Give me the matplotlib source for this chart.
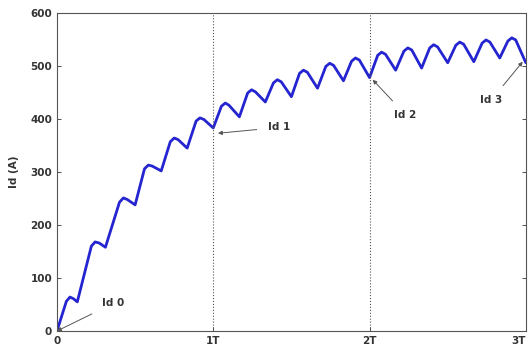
import numpy as np
import matplotlib.pyplot as plt
import matplotlib.transforms as mtransforms

# Armature current ripple: waveform vertices (time in units of T, current in A)
t_pts = [0.0, 0.06, 0.083, 0.105, 0.13,
         0.22, 0.244, 0.27, 0.31,
         0.40, 0.425, 0.45, 0.5,
         0.56, 0.585, 0.61, 0.667,
         0.725, 0.75, 0.775, 0.833,
         0.89, 0.915, 0.94, 1.0,
         1.052, 1.077, 1.10, 1.167,
         1.22, 1.245, 1.27, 1.333,
         1.385, 1.41, 1.435, 1.5,
         1.552, 1.577, 1.602, 1.667,
         1.72, 1.745, 1.77, 1.833,
         1.885, 1.91, 1.935, 2.0,
         2.052, 2.077, 2.102, 2.167,
         2.22, 2.245, 2.27, 2.333,
         2.385, 2.41, 2.435, 2.5,
         2.552, 2.577, 2.602, 2.667,
         2.72, 2.745, 2.77, 2.833,
         2.885, 2.91, 2.935, 3.0]
id_pts = [0, 56, 64, 61, 55,
          160, 168, 166, 158,
          243, 251, 248, 238,
          306, 313, 311, 302,
          357, 364, 361, 345,
          396, 402, 399, 383,
          424, 430, 426, 404,
          449, 455, 451, 432,
          468, 474, 470, 442,
          486, 492, 488, 458,
          499, 505, 501, 472,
          509, 515, 511, 478,
          520, 526, 522, 492,
          528, 534, 530, 496,
          534, 540, 536, 506,
          539, 545, 541, 508,
          543, 549, 545, 515,
          547, 553, 549, 506]

x_ticks = [0, 1, 2, 3]
x_labels = ['0', '1T', '2T', '3T']
y_ticks = [0, 100, 200, 300, 400, 500, 600]

# annotation labels: (text, point on curve, text position)
labels = ['Id 0', 'Id 1', 'Id 2', 'Id 3']
label_pts = [(0.0, 0), (1.03, 373), (2.02, 474), (2.98, 508)]
label_txt = [(0.36, 52), (1.42, 384), (2.23, 408), (2.78, 436)]

fig = plt.figure(figsize=(5.31, 3.57), dpi=100)
ax = fig.add_axes([0.1073, 0.0728, 0.883, 0.891])

ax.plot(t_pts, id_pts, color='#2424d0', linewidth=2.0,
        solid_joinstyle='round', solid_capstyle='round')

for xv in [1, 2]:
    ax.axvline(xv, color='#555555', linestyle=':', linewidth=0.8)

for txt, (px, py), (tx, ty) in zip(labels, label_pts, label_txt):
    ax.annotate(txt, xy=(px, py), xytext=(tx, ty), fontsize=7.5, fontweight='bold',
                color='#333333', ha='center', va='center',
                arrowprops=dict(arrowstyle='-|>', color='#555555', lw=0.7,
                                mutation_scale=6, shrinkA=6, shrinkB=0))

ax.set_xlim(0, 3)
ax.set_ylim(0, 600)
ax.set_xticks(x_ticks)
ax.set_xticklabels(x_labels)
ax.set_yticks(y_ticks)
ax.tick_params(direction='in', length=3, width=0.6, labelsize=7.5, top=False, right=True,
               colors='#333333')
for lab in ax.get_xticklabels() + ax.get_yticklabels():
    lab.set_fontweight('bold')
# keep the last x label inside the figure
last = ax.get_xticklabels()[-1]
last.set_transform(last.get_transform() + mtransforms.ScaledTranslation(-5 / 72, 0, fig.dpi_scale_trans))
for sp in ax.spines.values():
    sp.set_color('#555555')
    sp.set_linewidth(0.8)

ax.set_ylabel('Id (A)', fontsize=7.5, fontweight='bold', color='#333333', labelpad=8)

fig.savefig('out.png', dpi=100)
